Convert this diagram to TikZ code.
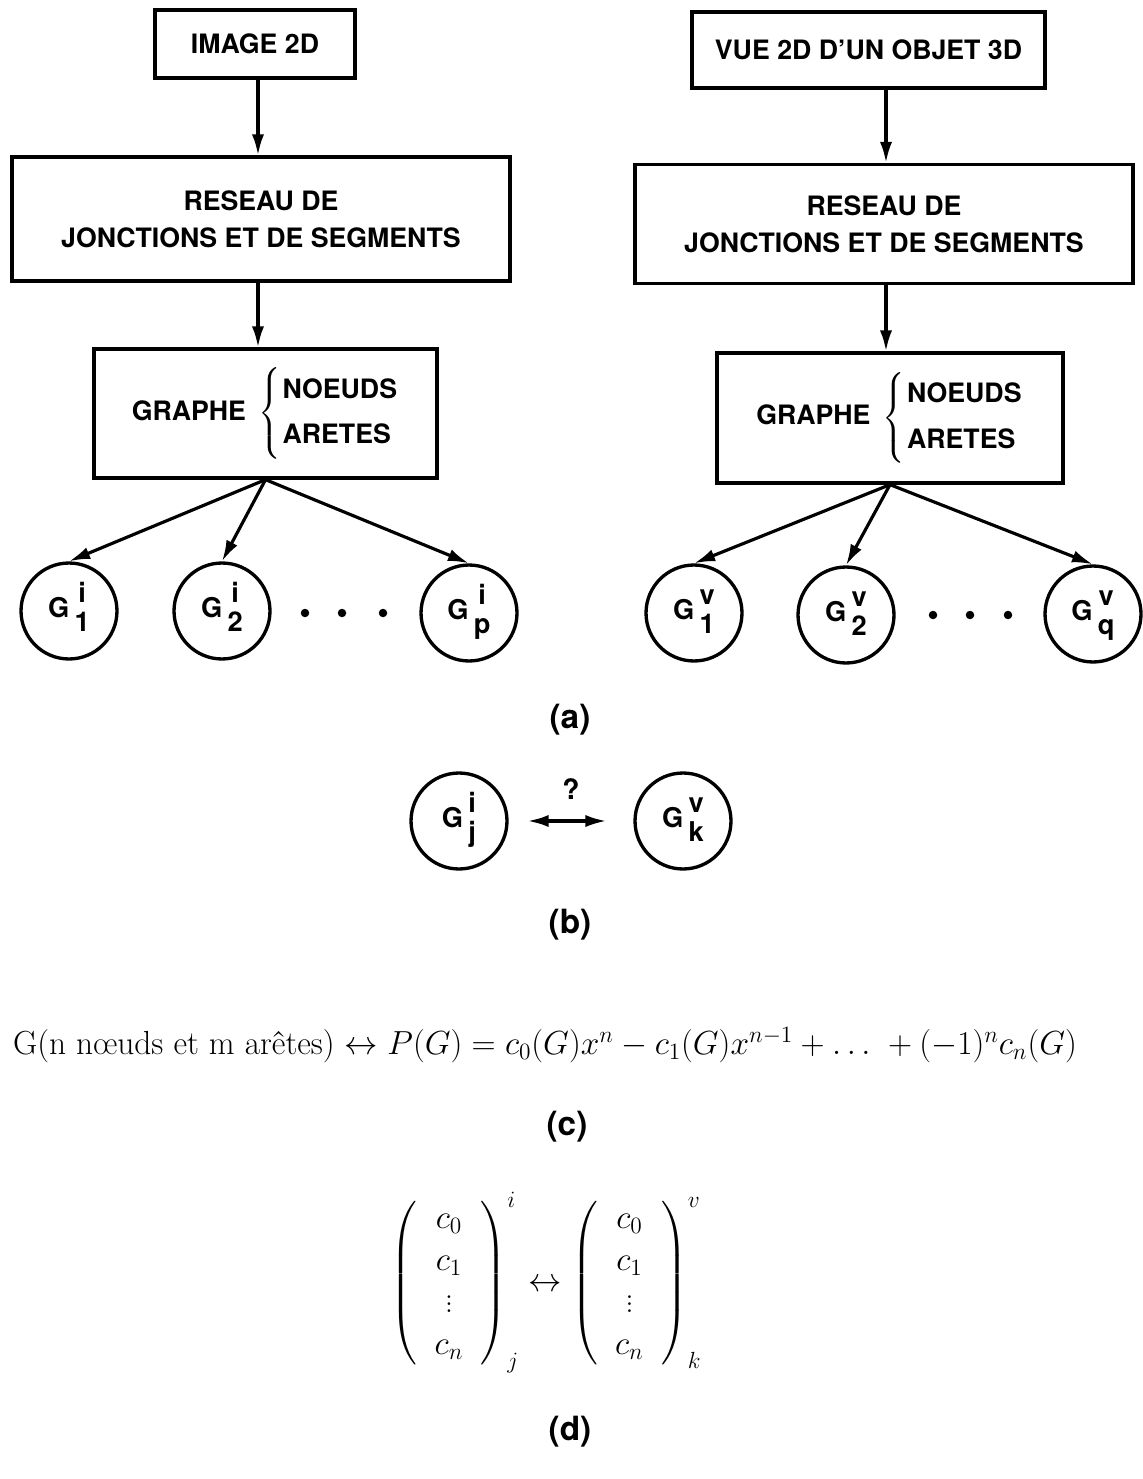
\documentclass[tikz,border=0pt]{standalone}
\usepackage{fix-cm}
\usepackage{amsmath}
\usepackage{fontspec}
\setsansfont{TeX Gyre Heros}
\usetikzlibrary{arrows.meta}

\tikzset{
  box/.style = {rectangle,
      draw = black,
      line width = 1.9pt,
      align = center,
      font = \sffamily\bfseries\fontsize{15.2}{21}\selectfont},
  subgraph/.style = {circle,
      draw = black,
      line width = 1.9pt,
      inner sep = 0pt,
      minimum size = 1.92cm,
      font = \sffamily\bfseries\fontsize{15.5}{17}\selectfont},
  flow/.style = {-{Latex[length=12pt, width=7pt]},
      line width = 1.8pt},
  caption/.style = {font = \sffamily\bfseries\fontsize{19}{22}\selectfont}
}

% G with an upper and a lower index stacked
\newcommand{\Gind}[2]{G\hspace{3pt}\begin{tabular}[c]{@{}c@{}}#1\\[0pt]#2\end{tabular}}
% the graph box: nodes and edges
\newcommand{\graphetext}{GRAPHE\hspace{7pt}$\delimitershortfall=-4pt\left\{\hspace{1pt}\begin{tabular}[c]{@{}l@{}}NOEUDS\\[5pt]ARETES\end{tabular}\right.$}

\begin{document}
\begin{tikzpicture}[x = 0.02cm, y = -0.02cm]
  \useasboundingbox (0,0) rectangle (1142,1479);

  % (a) left: the 2D image
  \node[box,
      minimum width = 4cm,
      minimum height = 1.36cm] (img) at (255,44) {IMAGE 2D};
  \node[box,
      minimum width = 9.96cm,
      minimum height = 2.48cm] (resL) at (261,219) {RESEAU DE\\JONCTIONS ET DE SEGMENTS};
  \node[box,
      minimum width = 6.86cm,
      minimum height = 2.58cm] (graL) at (265.5,413.5) {\graphetext};

  \node[subgraph] (gi1) at (69,611) {\Gind{i}{1}};
  \node[subgraph] (gi2) at (222,611) {\Gind{i}{2}};
  \node[subgraph] (gip) at (469,613) {\Gind{i}{p}};
  \foreach \x in {305,342,383}
    \fill (\x,613) circle (0.085cm);

  \draw[flow] (img.south -| 258,0) -- (resL.north -| 258,0);
  \draw[flow] (resL.south -| 258,0) -- (graL.north -| 258,0);
  \draw[flow] (graL.south) -- (gi1.north);
  \draw[flow] (graL.south) -- (gi2.north);
  \draw[flow] (graL.south) -- (gip.north);

  % (a) right: the 2D view of a 3D object
  \node[box,
      minimum width = 7.06cm,
      minimum height = 1.52cm] (vue) at (868.5,50) {VUE 2D D'UN OBJET 3D};
  \node[box,
      minimum width = 9.96cm,
      minimum height = 2.38cm] (resR) at (884,224) {RESEAU DE\\JONCTIONS ET DE SEGMENTS};
  \node[box,
      minimum width = 6.92cm,
      minimum height = 2.6cm] (graR) at (890,418) {\graphetext};

  \node[subgraph] (gv1) at (694,613) {\Gind{v}{1}};
  \node[subgraph] (gv2) at (846,615) {\Gind{v}{2}};
  \node[subgraph] (gvq) at (1093,614) {\Gind{v}{q}};
  \foreach \x in {933,970,1008}
    \fill (\x,615) circle (0.085cm);

  \draw[flow] (vue.south -| 886,0) -- (resR.north -| 886,0);
  \draw[flow] (resR.south -| 886,0) -- (graR.north -| 886,0);
  \draw[flow] (graR.south) -- (gv1.north);
  \draw[flow] (graR.south) -- (gv2.north);
  \draw[flow] (graR.south) -- (gvq.north);

  \node[caption] (capa) at (570,720) {(a)};

  % (b) which pair matches?
  \node[subgraph] (gij) at (459,821) {\Gind{i}{j}};
  \node[subgraph] (gvk) at (683,821) {\Gind{v}{k}};
  \draw[{Latex[length=12pt, width=7pt]}-{Latex[length=12pt, width=7pt]},
      line width = 1.8pt,
      shorten < = 0.38cm,
      shorten > = 0.54cm] (gij) -- (gvk)
    node[midway, above = 0.28cm, font = \sffamily\bfseries\fontsize{16}{18}\selectfont] (qm) {?};

  \node[caption] (capb) at (570,925) {(b)};

  % (c) characteristic polynomial
  \node[font = \fontsize{19}{23}\selectfont] (eqn) at (545,1045)
    {G(n n\oe uds et m ar\^etes) $\leftrightarrow P(G) = c_0(G)x^n - c_1(G)x^{n-1} + \ldots\ + (-1)^n c_n(G)$};

  \node[caption] (capc) at (567,1127) {(c)};

  % (d) coefficient vectors
  \node[font = \fontsize{19}{24}\selectfont] (vec) at (546,1283)
    {$\setlength{\arraycolsep}{10pt}
      \left(\begin{array}{c} c_0\\ c_1\\ \vdots\\ c_n \end{array}\right)^{i}_{j}
      \leftrightarrow
      \left(\begin{array}{c} c_0\\ c_1\\ \vdots\\ c_n \end{array}\right)^{v}_{k}$};

  \node[caption] (capd) at (570,1432) {(d)};
\end{tikzpicture}
\end{document}
